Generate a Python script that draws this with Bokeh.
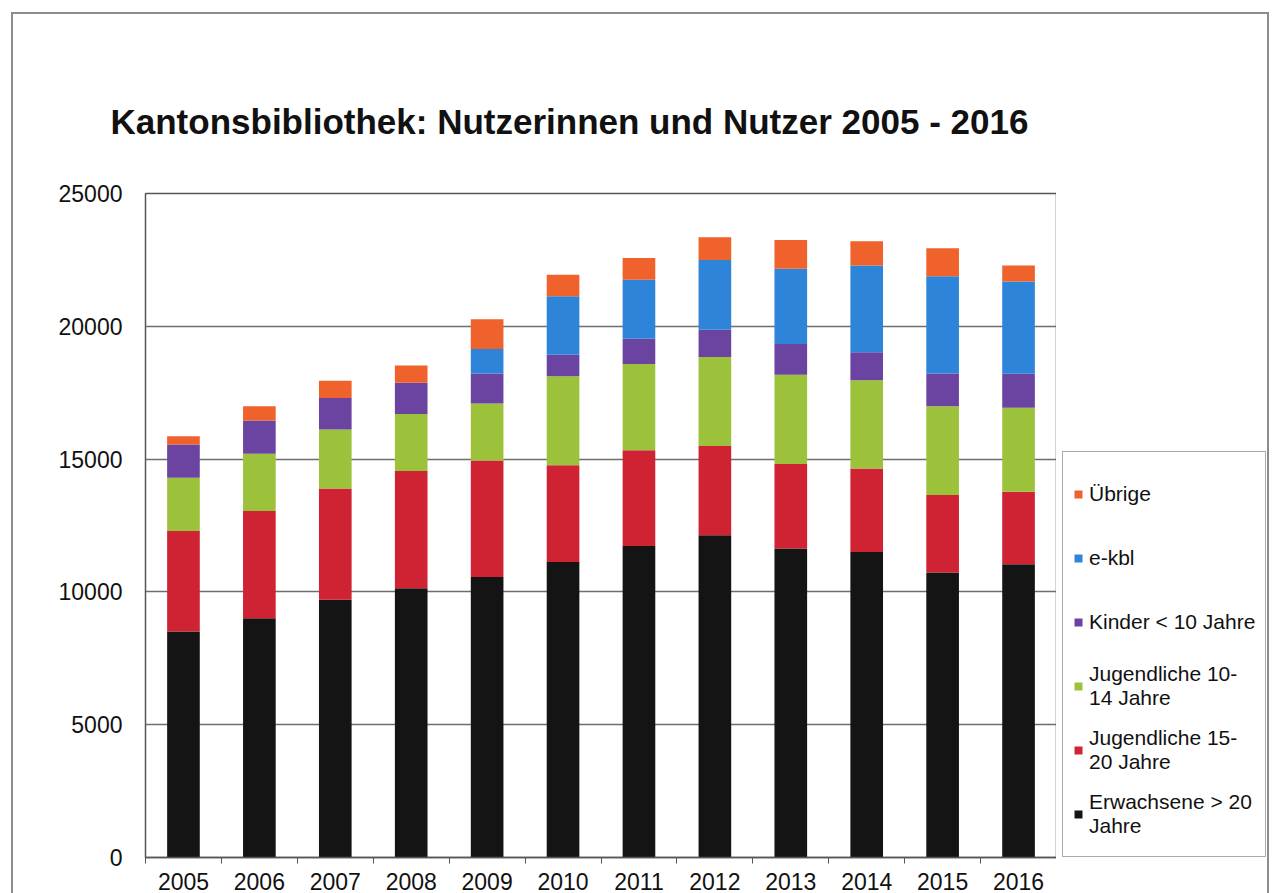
from bokeh.plotting import figure
from bokeh.layouts import row
from bokeh.models import ColumnDataSource, FixedTicker, Legend, LegendItem, Range1d
from bokeh.embed import file_html
from bokeh.resources import INLINE

# ---- data ----
years = [2005, 2006, 2007, 2008, 2009, 2010, 2011, 2012, 2013, 2014, 2015, 2016]
erwachsene = [8510, 9010, 9700, 10140, 10560, 11130, 11730, 12130, 11630, 11500, 10730, 11040]
jugendliche_15_20 = [3780, 4040, 4190, 4410, 4390, 3640, 3600, 3360, 3190, 3150, 2920, 2730]
jugendliche_10_14 = [2010, 2150, 2220, 2150, 2140, 3350, 3250, 3350, 3360, 3320, 3340, 3160]
kinder = [1250, 1250, 1190, 1170, 1130, 810, 950, 1030, 1150, 1050, 1230, 1280]
e_kbl = [0, 0, 0, 0, 930, 2200, 2220, 2630, 2840, 3270, 3660, 3480]
uebrige = [310, 540, 650, 650, 1120, 810, 820, 850, 1080, 910, 1060, 600]

series_keys = ["erw", "j15", "j10", "kin", "ekbl", "ueb"]
series_labels = ["Erwachsene > 20\nJahre", "Jugendliche 15-\n20 Jahre", "Jugendliche 10-\n14 Jahre",
                 "Kinder < 10 Jahre", "e-kbl", "Übrige"]
series_colors = ["#141414", "#cf2232", "#9cc23b", "#6a44a0", "#2d84d8", "#f0622c"]
y_ticks = [0, 5000, 10000, 15000, 20000, 25000]

src = ColumnDataSource(dict(x=years, erw=erwachsene, j15=jugendliche_15_20, j10=jugendliche_10_14,
                            kin=kinder, ekbl=e_kbl, ueb=uebrige))

FONT = "Liberation Sans"
BORDER = "2px solid #8c8c8c"

# ---------------- main chart ----------------
p = figure(width=1045, height=883,
           x_range=Range1d(years[0] - 0.5, years[-1] + 0.5),
           y_range=Range1d(0, 25000),
           output_backend="svg", toolbar_location=None,
           min_border_left=132, min_border_right=2, min_border_top=179, min_border_bottom=40)
p.styles = {"margin-left": "11px", "margin-top": "12px",
            "border-left": BORDER, "border-top": BORDER}

p.vbar_stack(series_keys, x="x", width=0.43, color=series_colors, source=src, line_width=0)

# title
p.title.text = "Kantonsbibliothek: Nutzerinnen und Nutzer 2005 - 2016"
p.title.text_font = FONT
p.title.text_font_style = "bold"
p.title.text_font_size = "35px"
p.title.text_color = "#111111"
p.title.align = "left"
p.title.offset = -35
p.title.standoff = 105

# frame / grid
p.outline_line_color = "#555555"
p.outline_line_width = 1.5
p.xgrid.grid_line_color = None
p.ygrid.ticker = FixedTicker(ticks=y_ticks)
p.ygrid.grid_line_color = "#6e6e6e"
p.ygrid.grid_line_width = 1.3
p.background_fill_color = "white"
p.border_fill_color = "white"

# y axis
p.yaxis.ticker = FixedTicker(ticks=y_ticks)
p.yaxis.axis_line_color = None
p.yaxis.major_tick_line_color = None
p.yaxis.minor_tick_line_color = None
p.yaxis.major_label_standoff = 17
p.yaxis.major_label_text_font = FONT
p.yaxis.major_label_text_font_size = "23px"
p.yaxis.major_label_text_color = "#111111"

# x axis: labels at bar centres, tick marks at category boundaries
boundaries = [y - 0.5 for y in years] + [years[-1] + 0.5]
p.xaxis.ticker = FixedTicker(ticks=years, minor_ticks=boundaries)
p.xaxis.axis_line_color = "#555555"
p.xaxis.axis_line_width = 1.5
p.xaxis.major_tick_line_color = None
p.xaxis.minor_tick_line_color = "#555555"
p.xaxis.minor_tick_out = 6
p.xaxis.minor_tick_in = 0
p.xaxis.major_label_standoff = 9
p.xaxis.major_label_text_font = FONT
p.xaxis.major_label_text_font_size = "23px"
p.xaxis.major_label_text_color = "#111111"

# ---------------- legend panel ----------------
pl = figure(width=213, height=883, title=None, x_axis_type=None, y_axis_type=None,
            output_backend="svg", toolbar_location=None, min_border=0,
            x_range=Range1d(0, 1), y_range=Range1d(0, 1))
pl.styles = {"margin-top": "12px", "border-top": BORDER, "border-right": BORDER}
pl.outline_line_color = None
pl.xgrid.grid_line_color = None
pl.ygrid.grid_line_color = None
pl.background_fill_color = "white"
pl.border_fill_color = "white"

# same series in the legend panel (outside its visible range) so the legend can show the swatches
legend_renderers = pl.vbar_stack(series_keys, x="x", width=0.43, color=series_colors,
                                 source=src, line_width=0)

items = [LegendItem(label=series_labels[i], renderers=[legend_renderers[i]])
         for i in reversed(range(len(series_keys)))]
legend = Legend(items=items, location=(6, 0))
legend.label_text_font = FONT
legend.label_text_font_size = "21px"
legend.label_text_color = "#111111"
legend.glyph_width = 10
legend.glyph_height = 10
legend.label_standoff = 6
legend.label_height = 64
legend.spacing = 0
legend.padding = 10
legend.margin = 0
legend.border_line_color = "#555555"
legend.border_line_width = 1.5
legend.background_fill_color = "white"
pl.add_layout(legend)

layout = row(p, pl)

html = file_html(layout, INLINE)
html = html.replace("<body>", '<body style="margin:0; overflow:hidden">', 1)
open("out.html", "w").write(html)
